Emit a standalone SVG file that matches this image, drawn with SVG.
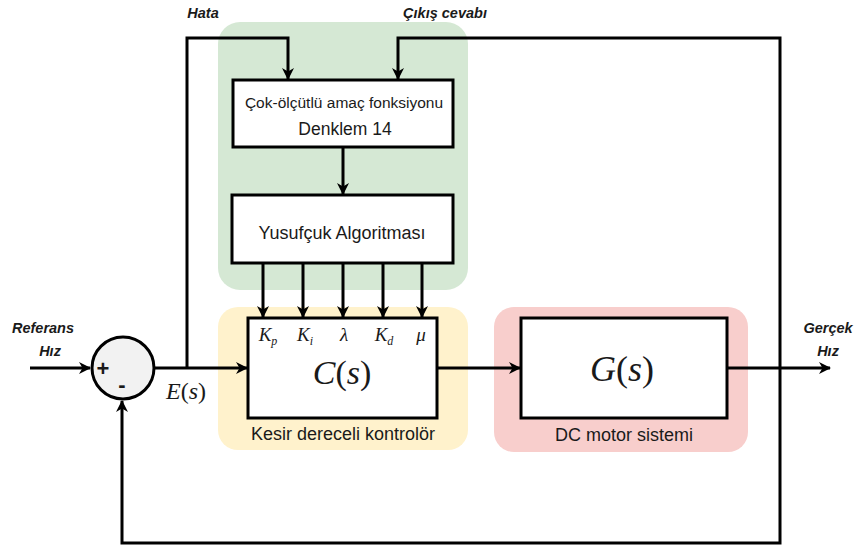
<svg xmlns="http://www.w3.org/2000/svg" width="859" height="548" viewBox="0 0 859 548">
<defs>
<marker id="arr" viewBox="0 0 12 12" refX="11" refY="6" markerWidth="12" markerHeight="12" markerUnits="userSpaceOnUse" orient="auto">
<path d="M0,0 L12,6 L0,12 L3.5,6 z" fill="#000"/>
</marker>
<style>
.ar{fill:none;stroke:#000;stroke-width:3;marker-end:url(#arr)}
.box{fill:#fff;stroke:#000;stroke-width:3}
.t{font-family:"Liberation Sans",Arial,sans-serif;fill:#1a1a1a;text-anchor:middle}
.lb{font-family:"Liberation Sans",Arial,sans-serif;font-weight:bold;font-style:italic;font-size:14.5px;fill:#1a1a1a;text-anchor:middle}
.m{font-family:"Liberation Serif","Times New Roman",serif;font-style:italic;fill:#1a1a1a;text-anchor:middle}
</style>
</defs>
<rect width="859" height="548" fill="#fff"/>
<g id="groups">
<rect id="green" x="218" y="22" width="250" height="268" rx="22" fill="#d5e8d4"/>
<rect id="yellow" x="218" y="307" width="250" height="143" rx="20" fill="#fff2cc"/>
<rect id="red" x="494" y="307" width="254" height="145" rx="20" fill="#f8cecc"/>
</g>
<g id="connectors">
<polyline class="ar" points="187,368 187,38 288,38 288,79"/>
<polyline class="ar" points="780,368 780,38 398,38 398,79"/>
<line class="ar" x1="343" y1="147" x2="343" y2="194"/>
<line class="ar" x1="263" y1="263" x2="263" y2="317"/>
<line class="ar" x1="303" y1="263" x2="303" y2="317"/>
<line class="ar" x1="343" y1="263" x2="343" y2="317"/>
<line class="ar" x1="383" y1="263" x2="383" y2="317"/>
<line class="ar" x1="422" y1="263" x2="422" y2="317"/>
<line class="ar" x1="30" y1="368" x2="90" y2="368"/>
<line class="ar" x1="155" y1="368" x2="247" y2="368"/>
<line class="ar" x1="437" y1="368" x2="520" y2="368"/>
<line class="ar" x1="727" y1="368" x2="830" y2="368"/>
<polyline class="ar" points="780,368 780,543 122,543 122,401"/>
</g>
<g id="objective">
<rect class="box" x="233" y="80" width="220" height="67"/>
<text class="t" x="344" y="108" font-size="15.5">Çok-ölçütlü amaç fonksiyonu</text>
<text class="t" x="345" y="135" font-size="17.5">Denklem 14</text>
</g>
<g id="dragonfly">
<rect class="box" x="232" y="195" width="221" height="68"/>
<text class="t" x="342" y="239" font-size="18">Yusufçuk Algoritması</text>
</g>
<g id="controller">
<rect class="box" x="248" y="318" width="189" height="100"/>
<text class="m" x="268" y="341" font-size="19">K<tspan font-size="12" dy="4">p</tspan></text>
<text class="m" x="305" y="341" font-size="19">K<tspan font-size="12" dy="4">i</tspan></text>
<text class="m" x="344" y="341" font-size="19">λ</text>
<text class="m" x="384" y="341" font-size="19">K<tspan font-size="12" dy="4">d</tspan></text>
<text class="m" x="421" y="341" font-size="19">μ</text>
<text class="m" x="342" y="384" font-size="34">C<tspan font-style="normal">(</tspan>s<tspan font-style="normal">)</tspan></text>
<text class="t" x="343" y="440" font-size="18">Kesir dereceli kontrolör</text>
</g>
<g id="plant">
<rect class="box" x="521" y="318" width="206" height="100"/>
<text class="m" x="622" y="381" font-size="36">G<tspan font-style="normal">(</tspan>s<tspan font-style="normal">)</tspan></text>
<text class="t" x="624" y="441" font-size="18">DC motor sistemi</text>
</g>
<g id="sum">
<circle cx="123" cy="368" r="31" fill="#f2f2f2" stroke="#000" stroke-width="3"/>
<text class="t" x="103" y="376" font-size="22" font-weight="bold">+</text>
<text class="t" x="122" y="392" font-size="22" font-weight="bold">-</text>
</g>
<g id="labels">
<text class="lb" x="203" y="18">Hata</text>
<text class="lb" x="445" y="18">Çıkış cevabı</text>
<text class="lb" x="43" y="333">Referans</text>
<text class="lb" x="50" y="356">Hız</text>
<text class="lb" x="828" y="333">Gerçek</text>
<text class="lb" x="828" y="356">Hız</text>
<text class="m" x="186" y="399" font-size="24">E<tspan font-style="normal">(</tspan>s<tspan font-style="normal">)</tspan></text>
</g>
</svg>
